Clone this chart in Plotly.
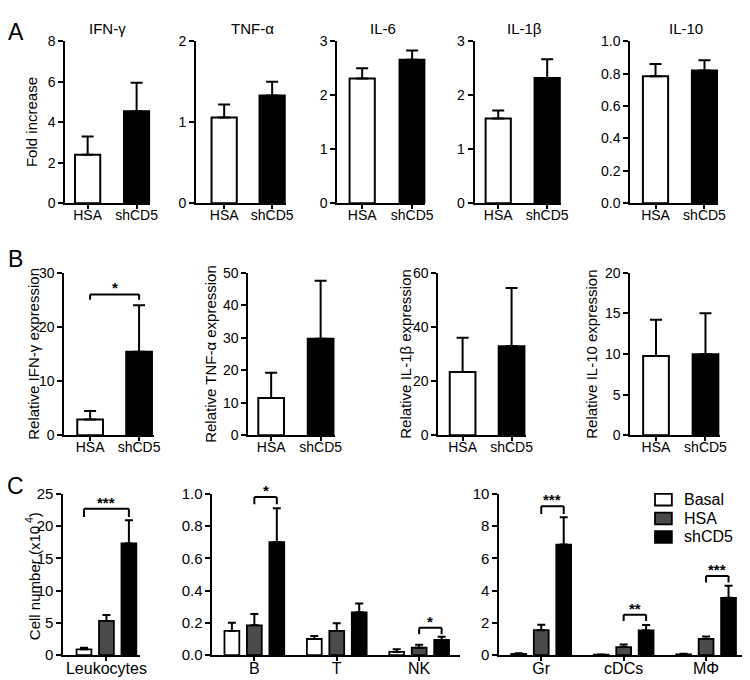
import plotly.graph_objects as go

W, H = 750, 680
FONT = "Arial, Liberation Sans, sans-serif"

# ---------------- data ----------------
groups_ab = ["HSA", "shCD5"]

a_titles = ["IFN-γ", "TNF-α", "IL-6", "IL-1β", "IL-10"]
a_means = [[2.4, 4.55], [1.06, 1.33], [2.31, 2.66], [1.57, 2.32], [0.785, 0.82]]
a_errs = [[0.9, 1.4], [0.16, 0.17], [0.19, 0.17], [0.15, 0.35], [0.075, 0.063]]
a_ymax = [8, 2, 3, 3, 1.0]
a_dtick = [2, 1, 1, 1, 0.2]

b_labels = ["Relative IFN-γ expression", "Relative TNF-α expression",
            "Relative IL-1β expression", "Relative IL-10 expression"]
b_means = [[2.9, 15.4], [11.5, 29.7], [23.4, 32.9], [9.76, 9.96]]
b_errs = [[1.6, 8.6], [7.7, 17.8], [12.6, 21.5], [4.44, 5.04]]
b_ymax = [30, 50, 60, 20]
b_dtick = [10, 10, 20, 5]

c_series = ["Basal", "HSA", "shCD5"]
c_cats = [["Leukocytes"], ["B", "T", "NK"], ["Gr", "cDCs", "MΦ"]]
c_basal_mean = [[0.9], [0.15, 0.10, 0.02], [0.08, 0.03, 0.05]]
c_basal_err = [[0.25], [0.05, 0.018, 0.016], [0.04, 0.01, 0.03]]
c_hsa_mean = [[5.3], [0.185, 0.15, 0.046], [1.55, 0.5, 1.0]]
c_hsa_err = [[0.9], [0.07, 0.047, 0.018], [0.34, 0.16, 0.15]]
c_sh_mean = [[17.3], [0.70, 0.265, 0.094], [6.85, 1.53, 3.55]]
c_sh_err = [[3.6], [0.21, 0.055, 0.02], [1.7, 0.34, 0.75]]
c_ymax = [25, 1.0, 10]
c_dtick = [5, 0.2, 2]

# significance brackets
b_sig = [(0, 0, 1, 26.0, 25.0, "*")]
c_sig = [(0, 0, 0, 2, 22.7, 21.4, "***"),
         (1, 0, 1, 2, 0.98, 0.935, "*"),
         (1, 2, 1, 2, 0.17, 0.13, "*"),
         (2, 0, 1, 2, 9.23, 8.75, "***"),
         (2, 1, 1, 2, 2.5, 2.12, "**"),
         (2, 2, 1, 2, 4.9, 4.5, "***")]

# ---------------- layout frames (pixels) ----------------
A_TOP, A_BOT = 25, 191
a_frames = [(58, 144, 80.5, 130), (190, 281, 218.5, 267), (333, 422, 358, 408.5),
            (471.7, 559, 495.5, 545), (629, 718, 654.5, 704)]
A_BARW = 25.5
B_TOP, B_BOT = 262.3, 429
b_frames = [(57, 148, 83, 132.5), (243, 331, 266, 316), (435, 524, 459.5, 509),
            (629, 720, 655, 705)]
B_BARW = 26
C_TOP, C_BOT = 489, 654.5
c_frames = [(56, 133, 99.5), (206.7, 456.7, 249), (496.7, 748, 539)]
C_UNIT = 83.3
C_GAP = 22.7   # px between bars in a group
C_BARW = 15

fig = go.Figure()
layout = dict(width=W, height=H, margin=dict(l=0, r=0, t=0, b=0),
              plot_bgcolor="white", paper_bgcolor="white",
              barmode="group",
              bargap=1 - 3 * C_GAP / C_UNIT,
              bargroupgap=1 - C_BARW / C_GAP,
              font=dict(family=FONT, size=14, color="black"),
              showlegend=False)
annotations = []
shapes = []


def px_x(l, r):
    return [l / W, r / W]


def px_y(top, bot):
    return [1 - bot / H, 1 - top / H]


def axis_common(size):
    return dict(showline=True, linecolor="black", linewidth=2, ticks="outside",
                ticklen=5, tickwidth=2, tickcolor="black", showgrid=False,
                zeroline=False, tickfont=dict(size=size, family=FONT, color="black"),
                fixedrange=True)


idx = [0]


def new_axes(l, r, top, bot, xrange, ymax, dtick, size, xsize, tickformat=None):
    idx[0] += 1
    n = idx[0]
    xa = "xaxis" if n == 1 else f"xaxis{n}"
    ya = "yaxis" if n == 1 else f"yaxis{n}"
    xr = "x" if n == 1 else f"x{n}"
    yr = "y" if n == 1 else f"y{n}"
    xd = dict(axis_common(xsize), domain=px_x(l, r), anchor=yr,
              type="category", range=xrange, ticklen=4, ticklabelstandoff=-6)
    layout[xa] = xd
    yd = dict(axis_common(size), domain=px_y(top, bot), anchor=xr,
              range=[0, ymax], dtick=dtick, tick0=0)
    if tickformat:
        yd["tickformat"] = tickformat
    layout[ya] = yd
    return xr, yr


def two_bar_panel(frames, top, bot, barw, means, errs, ymaxes, dticks):
    refs = []
    for i, (l, r, c0, c1) in enumerate(frames):
        unit = c1 - c0
        xrange = [-(c0 - l) / unit, (r - c0) / unit]
        fmt = ".1f" if dticks[i] < 1 else None
        xr, yr = new_axes(l, r, top, bot, xrange, ymaxes[i], dticks[i], 14, 14, fmt)
        fig.add_trace(go.Bar(
            x=groups_ab, y=means[i], xaxis=xr, yaxis=yr, width=barw / unit,
            marker=dict(color=["white", "black"], line=dict(color="black", width=2)),
            error_y=dict(type="data", array=errs[i], arrayminus=[0, 0], symmetric=False,
                         color="black", thickness=2, width=6),
            showlegend=False, hoverinfo="skip"))
        refs.append((xr, yr))
    return refs


a_refs = two_bar_panel(a_frames, A_TOP, A_BOT, A_BARW, a_means, a_errs, a_ymax, a_dtick)
b_refs = two_bar_panel(b_frames, B_TOP, B_BOT, B_BARW, b_means, b_errs, b_ymax, b_dtick)

c_means_all = [c_basal_mean, c_hsa_mean, c_sh_mean]
c_errs_all = [c_basal_err, c_hsa_err, c_sh_err]
c_colors = ["white", "#4b4b4b", "black"]
c_refs = []
for i, (l, r, c0) in enumerate(c_frames):
    xrange = [-(c0 - l) / C_UNIT, (r - c0) / C_UNIT]
    fmt = ".1f" if c_dtick[i] < 1 else None
    xr, yr = new_axes(l, r, C_TOP, C_BOT, xrange, c_ymax[i], c_dtick[i], 15, 16, fmt)
    for k, name in enumerate(c_series):
        fig.add_trace(go.Bar(
            x=c_cats[i], y=c_means_all[k][i], name=name, xaxis=xr, yaxis=yr,
            marker=dict(color=c_colors[k], line=dict(color="black", width=1.8)),
            error_y=dict(type="data", array=c_errs_all[k][i],
                         arrayminus=[0] * len(c_cats[i]), symmetric=False,
                         color="black", thickness=2, width=4),
            showlegend=False, hoverinfo="skip"))
    c_refs.append((xr, yr))


def add_bracket(xr, yr, x0, x1, y, ydrop, label):
    line = dict(color="black", width=2)
    shapes.append(dict(type="line", xref=xr, yref=yr, x0=x0, x1=x1, y0=y, y1=y, line=line))
    shapes.append(dict(type="line", xref=xr, yref=yr, x0=x0, x1=x0, y0=y, y1=ydrop, line=line))
    shapes.append(dict(type="line", xref=xr, yref=yr, x0=x1, x1=x1, y0=y, y1=ydrop, line=line))
    annotations.append(dict(xref=xr, yref=yr, x=(x0 + x1) / 2, y=y, text=f"<b>{label}</b>",
                            showarrow=False, xanchor="center", yanchor="bottom", yshift=-4,
                            font=dict(size=15, family=FONT, color="black")))


for (p, a, b, y, yd_, lab) in b_sig:
    xr, yr = b_refs[p]
    add_bracket(xr, yr, a, b, y, yd_, lab)

group_off = C_GAP / C_UNIT
for (p, cat, s0, s1, y, yd_, lab) in c_sig:
    xr, yr = c_refs[p]
    add_bracket(xr, yr, cat + (s0 - 1) * group_off, cat + (s1 - 1) * group_off, y, yd_, lab)

# panel titles (A)
a_title_x = [101, 247, 379, 522, 685]
for t, x in zip(a_titles, a_title_x):
    annotations.append(dict(xref="paper", yref="paper", x=x / W, y=1 - 12 / H, text=t,
                            xanchor="center", yanchor="middle",
                            showarrow=False, font=dict(size=15, family=FONT)))


def ytitle(text, x, y, size=15):
    annotations.append(dict(xref="paper", yref="paper", x=x / W, y=1 - y / H, text=text,
                            textangle=-90, showarrow=False, xanchor="center",
                            yanchor="middle", font=dict(size=size, family=FONT)))


ytitle("Fold increase", 24, (A_TOP + A_BOT) / 2)
for t, x in zip(b_labels, [25, 204, 401, 589]):
    ytitle(t, x, (B_TOP + B_BOT) / 2)
ytitle("Cell number (x10<sup> 4</sup>)", 25, (C_TOP + C_BOT) / 2 + 2)

# panel letters
for t, y in [("A", 15), ("B", 248), ("C", 481)]:
    annotations.append(dict(xref="paper", yref="paper", x=8 / W, y=1 - y / H, text=t,
                            xanchor="center", yanchor="middle",
                            showarrow=False, font=dict(size=23, family=FONT)))

# legend (drawn as boxes + labels)
LEG_X0, LEG_X1, LEG_TEXT_X = 654, 671, 681
leg_rows_y = [495, 514.3, 533.3]
for name, col, yy in zip(c_series, c_colors, leg_rows_y):
    shapes.append(dict(type="rect", xref="paper", yref="paper",
                       x0=LEG_X0 / W, x1=LEG_X1 / W, y0=1 - (yy + 6) / H, y1=1 - (yy - 6) / H,
                       fillcolor=col, line=dict(color="black", width=1.8)))
    annotations.append(dict(xref="paper", yref="paper", x=LEG_TEXT_X / W, y=1 - yy / H,
                            text=name, xanchor="left", yanchor="middle", showarrow=False,
                            font=dict(size=16, family=FONT)))

layout["annotations"] = annotations
layout["shapes"] = shapes
fig.update_layout(**layout)
fig.write_html("out.html")
